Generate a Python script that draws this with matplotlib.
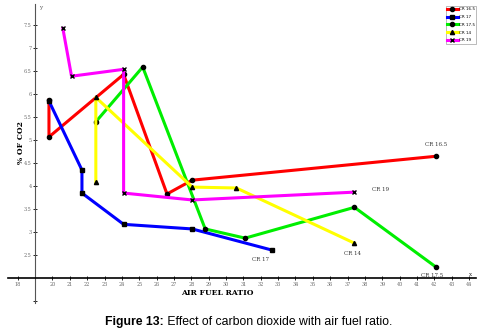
import matplotlib.pyplot as plt

# data (air fuel ratio, % of CO2)
labels = ['CR 16.5', 'CR 17', 'CR 17.5', 'CR 14', 'CR 19']
colors = ['#ff0000', '#0000ff', '#00ee00', '#ffff00', '#ff00ff']
markers = ['o', 's', 'o', '^', 'x']

cr165_x = [19.8, 19.8, 24.1, 26.6, 28.05, 42.1]
cr165_y = [5.87, 5.07, 6.43, 3.83, 4.13, 4.65]
cr17_x = [19.8, 21.7, 21.7, 24.1, 28.05, 32.65]
cr17_y = [5.85, 4.35, 3.85, 3.17, 3.07, 2.61]
cr175_x = [22.5, 25.2, 28.8, 31.1, 37.4, 42.1]
cr175_y = [5.40, 6.59, 3.07, 2.87, 3.54, 2.24]
cr14_x = [22.5, 22.5, 28.05, 30.6, 37.4]
cr14_y = [4.09, 5.93, 3.98, 3.96, 2.76]
cr19_x = [20.6, 21.1, 24.1, 24.1, 28.05, 37.4]
cr19_y = [7.43, 6.39, 6.54, 3.85, 3.70, 3.87]

xs = [cr165_x, cr17_x, cr175_x, cr14_x, cr19_x]
ys = [cr165_y, cr17_y, cr175_y, cr14_y, cr19_y]

xticks = [18] + list(range(20, 45))
yticks = [1.5, 2.5, 3, 3.5, 4, 4.5, 5, 5.5, 6, 6.5, 7, 7.5]

fig = plt.figure(figsize=(4.93, 3.33), dpi=100)
ax = fig.add_axes([8 / 493, 30 / 333, 468 / 493, 299 / 333])

for x, y, c, m, lab in zip(xs, ys, colors, markers, labels):
    ax.plot(x, y, color=c, lw=2.2, marker=m, ms=3, mfc='black', mec='black',
            mew=1.0, label=lab, zorder=2)

# text next to the last point of each curve
lab_kw = dict(fontsize=4, family='serif', color='#333333', ha='center')
ax.text(42.1, 4.88, 'CR 16.5', **lab_kw)
ax.text(32.0, 2.38, 'CR 17', **lab_kw)
ax.text(41.9, 2.02, 'CR 17.5', **lab_kw)
ax.text(37.3, 2.50, 'CR 14', **lab_kw)
ax.text(38.9, 3.90, 'CR 19', **lab_kw)

ax.set_xlim(17.44, 44.4)
ax.set_ylim(1.46, 7.96)
for s in ['top', 'right']:
    ax.spines[s].set_visible(False)
ax.spines['left'].set_position(('data', 19))
ax.spines['bottom'].set_position(('data', 2))
ax.spines['left'].set_color('#555555')
ax.spines['bottom'].set_linewidth(1.2)
ax.set_xticks(xticks)
ax.set_xticklabels([str(t) for t in xticks])
ax.set_yticks(yticks)
ax.set_yticklabels(['' if t == 1.5 else ('%g' % t) for t in yticks])
ax.tick_params(direction='inout', length=3, width=0.6, labelsize=3.5,
               labelcolor='#666666', pad=1)
for t in ax.get_xticklabels() + ax.get_yticklabels():
    t.set_family('serif')

ax.text(19.25, 7.85, 'y', fontsize=4, family='serif', color='#555555')
ax.text(44.0, 2.05, 'x', fontsize=4, family='serif', color='#333333')
ax.text(29.5, 1.68, 'AIR FUEL RATIO', fontsize=5.5, family='serif',
        weight='bold', ha='center', va='center')
ax.text(18.2, 4.95, '% OF CO2', fontsize=5.5, family='serif', weight='bold',
        rotation=90, ha='center', va='center')

leg = ax.legend(loc='upper right', bbox_to_anchor=(1.004, 1.0), fontsize=3,
                handlelength=2.6, labelspacing=0.9, borderpad=0.3,
                handletextpad=0.2, fancybox=False, frameon=True)
leg.get_frame().set_edgecolor('#888888')
leg.get_frame().set_linewidth(0.5)

fig.text(0.333, 0.033, 'Figure 13:', ha='right', va='center', fontsize=8.8,
         family='Liberation Sans', weight='bold')
fig.text(0.333, 0.033, ' Effect of carbon dioxide with air fuel ratio.',
         ha='left', va='center', fontsize=8.8, family='Liberation Sans')

fig.savefig('out.png', dpi=100)
